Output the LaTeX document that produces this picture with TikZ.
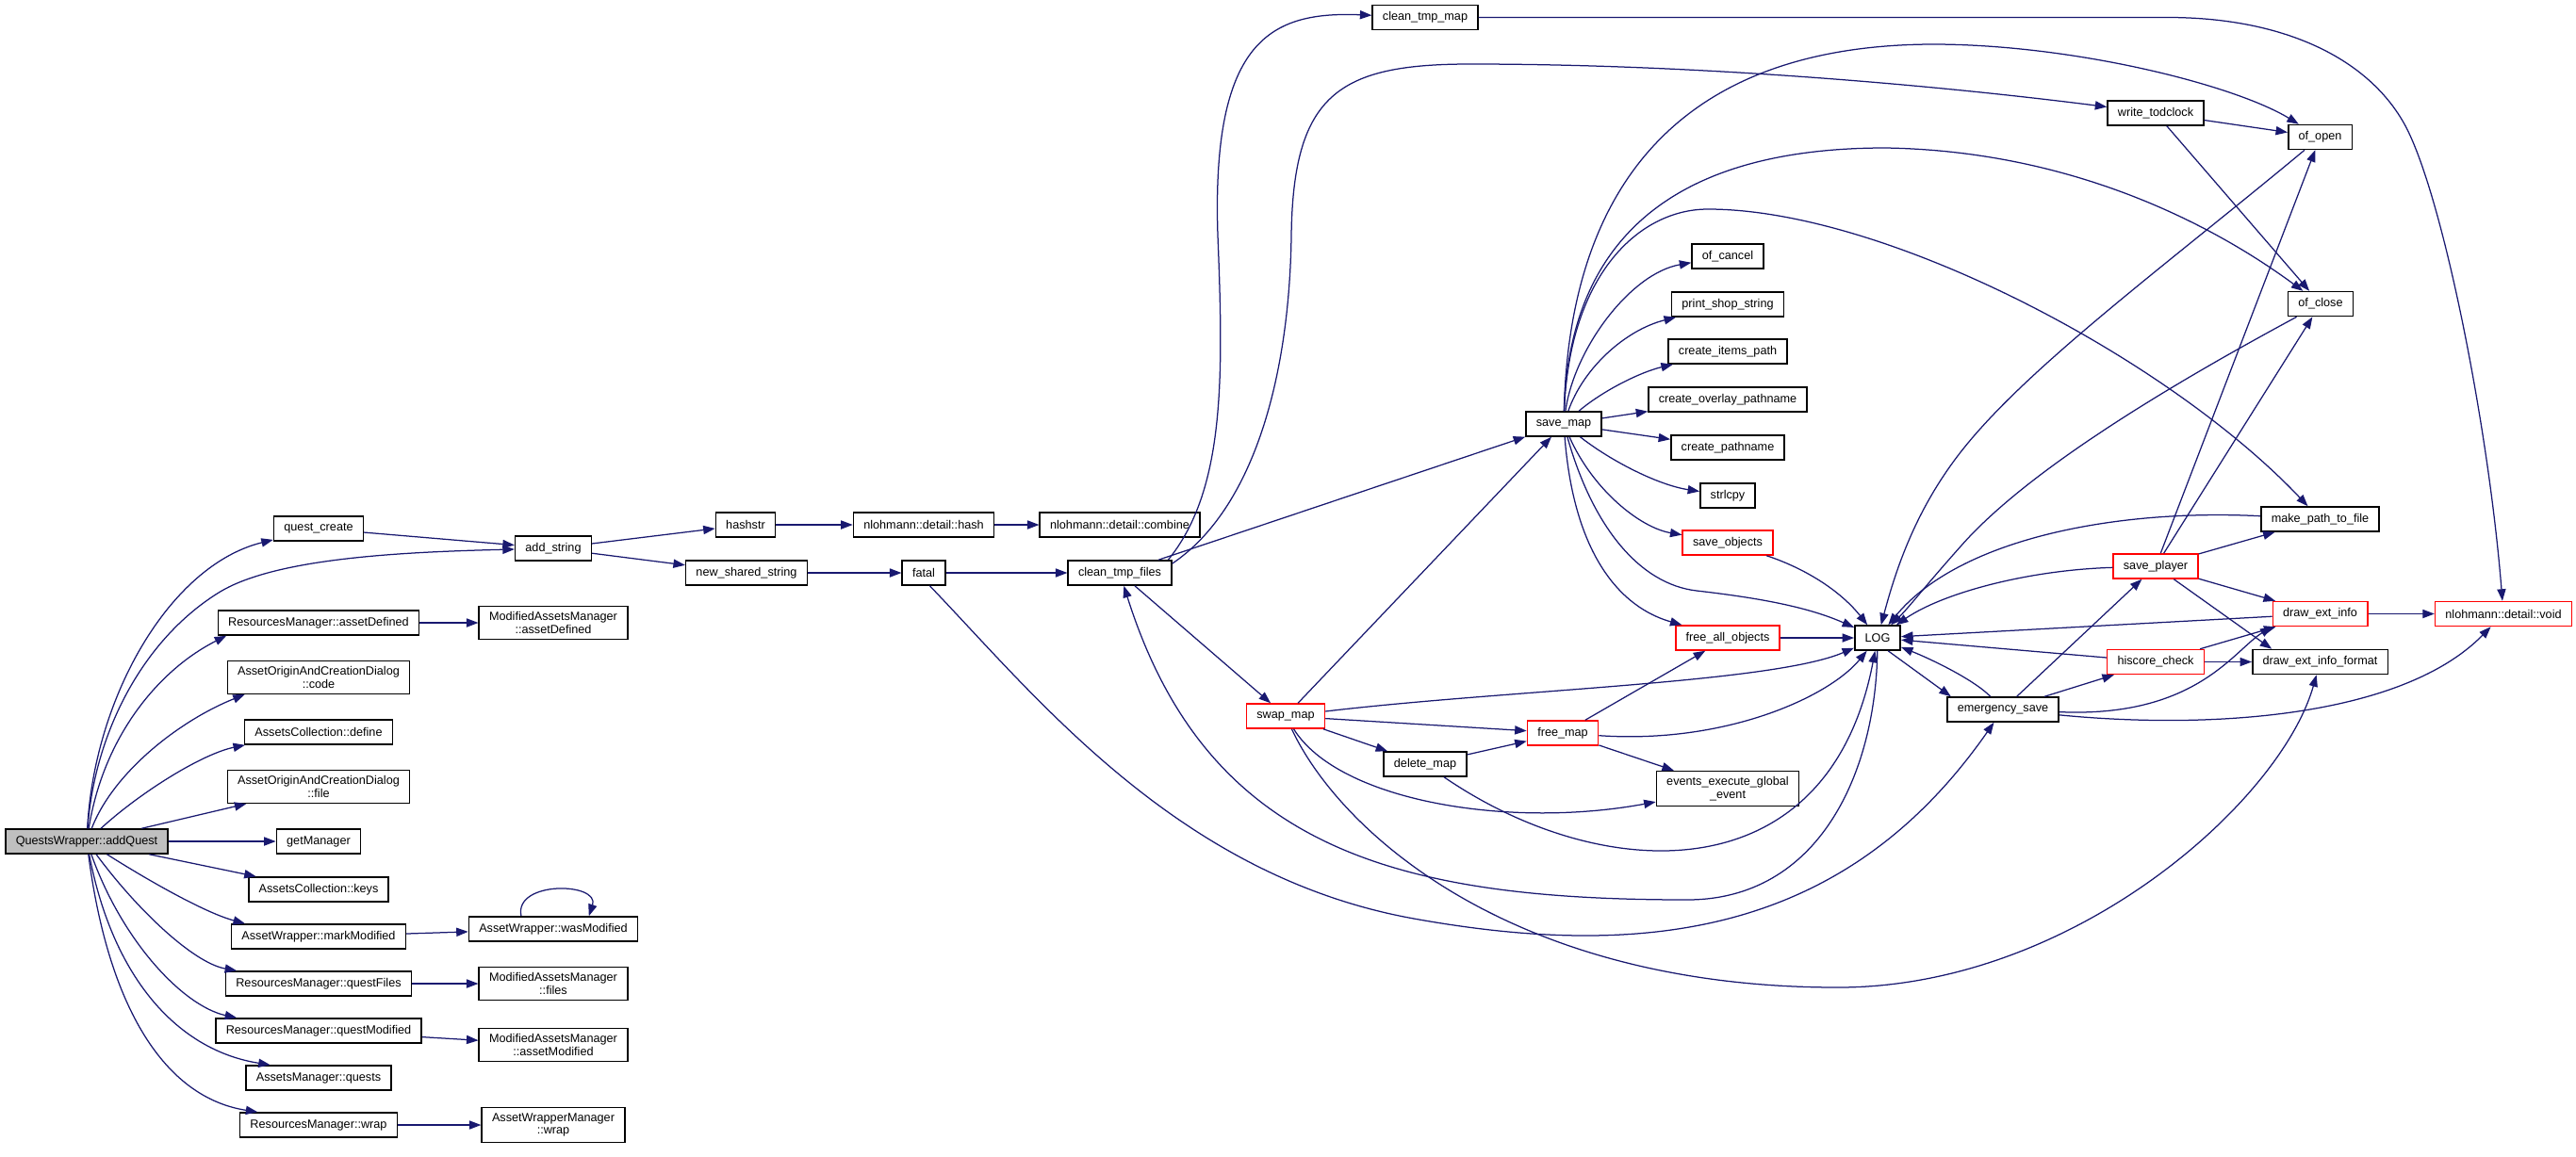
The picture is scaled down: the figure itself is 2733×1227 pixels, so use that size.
\documentclass[tikz,border=0pt]{standalone}
\usepackage{fontspec}
\setmainfont{Liberation Sans}
\usepackage{tikz}
\usetikzlibrary{arrows.meta}

\definecolor{callblue}{HTML}{191970}
\tikzset{
	fn/.style={draw=black, line width=0.9pt, fill=white, rectangle, align=center,
		font=\fontsize{7.6}{8.2}\selectfont, inner xsep=6.5pt, inner ysep=3.5pt,
		minimum height=15.6pt},
	fnred/.style={fn, draw=red},
	fnroot/.style={fn, fill=black!25},
	calls/.style={-{Triangle[length=7.5pt,width=5.5pt]}, draw=callblue, line width=0.75pt}
}

\begin{document}
\begin{tikzpicture}[x=0.6pt, y=-0.6pt]
	\useasboundingbox (0,0) rectangle (2733,1227);
	
	\node[fnroot] (aq) at (92,893) {QuestsWrapper::addQuest};
	
	\node[fn] (qc) at (338,561) {quest\_create};
	\node[fn] (rad) at (338,661) {ResourcesManager::assetDefined};
	\node[fn] (code) at (338,719) {AssetOriginAndCreationDialog\\::code};
	\node[fn] (def) at (338,777) {AssetsCollection::define};
	\node[fn] (file) at (338,835) {AssetOriginAndCreationDialog\\::file};
	\node[fn] (gm) at (338,893) {getManager};
	\node[fn] (keys) at (338,944) {AssetsCollection::keys};
	\node[fn] (mm) at (338,994) {AssetWrapper::markModified};
	\node[fn] (qf) at (338,1044) {ResourcesManager::questFiles};
	\node[fn] (qm) at (338,1094) {ResourcesManager::questModified};
	\node[fn] (aqs) at (338,1144) {AssetsManager::quests};
	\node[fn] (rw) at (338,1194) {ResourcesManager::wrap};
	
	\node[fn] (as) at (587,582) {add\_string};
	\node[fn] (mad) at (587,661) {ModifiedAssetsManager\\::assetDefined};
	\node[fn] (wm) at (587,986) {AssetWrapper::wasModified};
	\node[fn] (mf) at (587,1044) {ModifiedAssetsManager\\::files};
	\node[fn] (mam) at (587,1109) {ModifiedAssetsManager\\::assetModified};
	\node[fn] (aww) at (587,1194) {AssetWrapperManager\\::wrap};
	
	\node[fn] (hs) at (791,557) {hashstr};
	\node[fn] (nss) at (792,608) {new\_shared\_string};
	\node[fn] (nh) at (980,557) {nlohmann::detail::hash};
	\node[fn] (fat) at (980,608) {fatal};
	\node[fn] (nc) at (1188,557) {nlohmann::detail::combine};
	\node[fn] (ctf) at (1188,608) {clean\_tmp\_files};
	
	\node[fn] (ctm) at (1512,18.5) {clean\_tmp\_map};
	\node[fnred] (swm) at (1364,760) {swap\_map};
	\node[fn] (dm) at (1512,811) {delete\_map};
	\node[fn] (sm) at (1659,450) {save\_map};
	\node[fnred] (fm) at (1658,778) {free\_map};
	
	\node[fn] (oc) at (1833,272) {of\_cancel};
	\node[fn] (pss) at (1833,323) {print\_shop\_string};
	\node[fn] (cip) at (1833,373) {create\_items\_path};
	\node[fn] (cop) at (1833,424) {create\_overlay\_pathname};
	\node[fn] (cp) at (1833,475) {create\_pathname};
	\node[fn] (sc) at (1833,526) {strlcpy};
	\node[fnred] (so) at (1833,576) {save\_objects};
	\node[fnred] (fao) at (1833,677) {free\_all\_objects};
	\node[fn] (eeg) at (1833,837) {events\_execute\_global\\\_event};
	
	\node[fn] (log) at (1992,677) {LOG};
	\node[fn] (es) at (2125,753) {emergency\_save};
	\node[fn] (wt) at (2287,120) {write\_todclock};
	\node[fnred] (sp) at (2287,601) {save\_player};
	\node[fnred] (hc) at (2287,702.5) {hiscore\_check};
	
	\node[fn] (oo) at (2461.5,145.5) {of\_open};
	\node[fn] (ocl) at (2462,322.6) {of\_close};
	\node[fn] (mp) at (2461.5,551) {make\_path\_to\_file};
	\node[fnred] (dei) at (2461.5,651.5) {draw\_ext\_info};
	\node[fn] (deif) at (2461.5,702.5) {draw\_ext\_info\_format};
	\node[fnred] (nv) at (2656,651.5) {nlohmann::detail::void};
	
	\draw[calls] (aq) .. controls (100,740) and (180,600) .. (qc);
	\draw[calls] (aq) .. controls (100,780) and (150,680) .. (232,629) .. controls (290,593) and (420,586) .. (as);
	\draw[calls] (aq) .. controls (110,780) and (170,710) .. (rad.188);
	\draw[calls] (aq) .. controls (120,820) and (190,765) .. (code.193);
	\draw[calls] (aq) .. controls (150,840) and (215,800) .. (def.190);
	\draw[calls] (aq) -- (file);
	\draw[calls] (aq) -- (gm);
	\draw[calls] (aq) -- (keys);
	\draw[calls] (aq) .. controls (150,930) and (215,968) .. (mm.170);
	\draw[calls] (aq) .. controls (145,965) and (205,1022) .. (qf.171);
	\draw[calls] (aq) .. controls (130,1000) and (195,1068) .. (qm.171);
	\draw[calls] (aq) .. controls (120,1040) and (190,1115) .. (aqs.165);
	\draw[calls] (aq) .. controls (115,1070) and (175,1165) .. (rw.168);
	
	\draw[calls] (qc) -- (as);
	\draw[calls] (rad) -- (mad);
	\draw[calls] (mm) -- (wm);
	\draw[calls] (wm.158) .. controls +(-8,-38) and +(12,-36) .. (wm.20);
	\draw[calls] (qf) -- (mf);
	\draw[calls] (qm) -- (mam);
	\draw[calls] (rw) -- (aww);
	
	\draw[calls] (as) -- (hs);
	\draw[calls] (as) -- (nss);
	\draw[calls] (hs) -- (nh);
	\draw[calls] (nh) -- (nc);
	\draw[calls] (nss) -- (fat);
	\draw[calls] (fat) -- (ctf);
	\draw[calls] (fat.-65) .. controls (1100,740) and (1250,930) .. (1500,975) .. controls (1750,1020) and (1960,990) .. (es);
	
	\draw[calls] (ctf.15) .. controls (1300,520) and (1298,400) .. (1292,250) .. controls (1285,40) and (1350,12) .. (ctm);
	\draw[calls] (ctf.10) .. controls (1330,540) and (1368,400) .. (1370,250) .. controls (1372,100) and (1420,68) .. (1560,68) .. controls (1800,68) and (2050,90) .. (wt);
	\draw[calls] (ctf) -- (sm);
	\draw[calls] (ctf) -- (swm);
	\draw[calls] (log) .. controls (1990,820) and (1930,955) .. (1790,955) .. controls (1480,955) and (1280,900) .. (ctf);
	\draw[calls] (ctm) -- (2300,18.5) .. controls (2420,18.5) and (2510,60) .. (2550,130) .. controls (2590,200) and (2640,450) .. (nv);
	
	\draw[calls] (swm) -- (sm);
	\draw[calls] (swm) .. controls (1600,732) and (1880,725) .. (log);
	\draw[calls] (swm) -- (fm);
	\draw[calls] (swm) -- (dm);
	\draw[calls] (swm) .. controls (1420,850) and (1600,880) .. (eeg);
	\draw[calls] (swm) .. controls (1420,880) and (1600,1048) .. (1950,1048) .. controls (2200,1048) and (2420,850) .. (deif);
	\draw[calls] (dm) -- (fm);
	\draw[calls] (dm) .. controls (1700,940) and (1940,950) .. (log);
	\draw[calls] (fm) -- (fao);
	\draw[calls] (fm) .. controls (1830,790) and (1940,740) .. (log);
	\draw[calls] (fm) -- (eeg);
	
	\draw[calls] (sm) .. controls (1670,370) and (1730,290) .. (oc);
	\draw[calls] (sm) .. controls (1680,390) and (1725,350) .. (pss);
	\draw[calls] (sm) .. controls (1700,415) and (1740,395) .. (cip);
	\draw[calls] (sm) -- (cop);
	\draw[calls] (sm) -- (cp);
	\draw[calls] (sm) .. controls (1710,490) and (1760,515) .. (sc);
	\draw[calls] (sm) .. controls (1690,520) and (1740,560) .. (so);
	\draw[calls] (sm) .. controls (1690,560) and (1740,620) .. (1800,627) .. controls (1870,635) and (1920,645) .. (log);
	\draw[calls] (sm) .. controls (1670,590) and (1720,645) .. (fao);
	\draw[calls] (sm) .. controls (1665,200) and (1780,48) .. (2050,47) .. controls (2200,47) and (2370,90) .. (oo);
	\draw[calls] (sm) .. controls (1665,250) and (1780,157) .. (2000,157) .. controls (2200,160) and (2350,240) .. (ocl);
	\draw[calls] (sm) .. controls (1665,290) and (1740,222) .. (1812,222) .. controls (2000,222) and (2300,380) .. (mp);
	\draw[calls] (so) .. controls (1920,605) and (1955,630) .. (log);
	\draw[calls] (fao) -- (log);
	
	\draw[calls] (wt) -- (oo);
	\draw[calls] (wt) -- (ocl);
	\draw[calls] (oo) .. controls (2300,280) and (2150,390) .. (2080,480) .. controls (2030,544) and (2010,610) .. (log);
	\draw[calls] (ocl) .. controls (2300,410) and (2150,500) .. (2080,580) .. controls (2040,625) and (2025,645) .. (log);
	\draw[calls] (mp) .. controls (2250,540) and (2080,570) .. (log);
	
	\draw[calls] (sp) -- (oo);
	\draw[calls] (sp) -- (ocl);
	\draw[calls] (sp) -- (mp);
	\draw[calls] (sp) -- (dei);
	\draw[calls] (sp) -- (deif.165);
	\draw[calls] (sp) .. controls (2150,605) and (2060,630) .. (log);
	\draw[calls] (dei) -- (log);
	\draw[calls] (dei) -- (nv);
	\draw[calls] (hc) -- (log);
	\draw[calls] (hc) -- (dei);
	\draw[calls] (hc) -- (deif);
	
	\draw[calls] (es) .. controls (2095,722) and (2050,700) .. (log);
	\draw[calls] (log.-51) -- (es.166);
	\draw[calls] (es) -- (sp);
	\draw[calls] (es) -- (hc);
	\draw[calls] (es) .. controls (2330,762) and (2370,690) .. (dei.195);
	\draw[calls] (es) .. controls (2350,775) and (2550,760) .. (nv);
	
\end{tikzpicture}
\end{document}
